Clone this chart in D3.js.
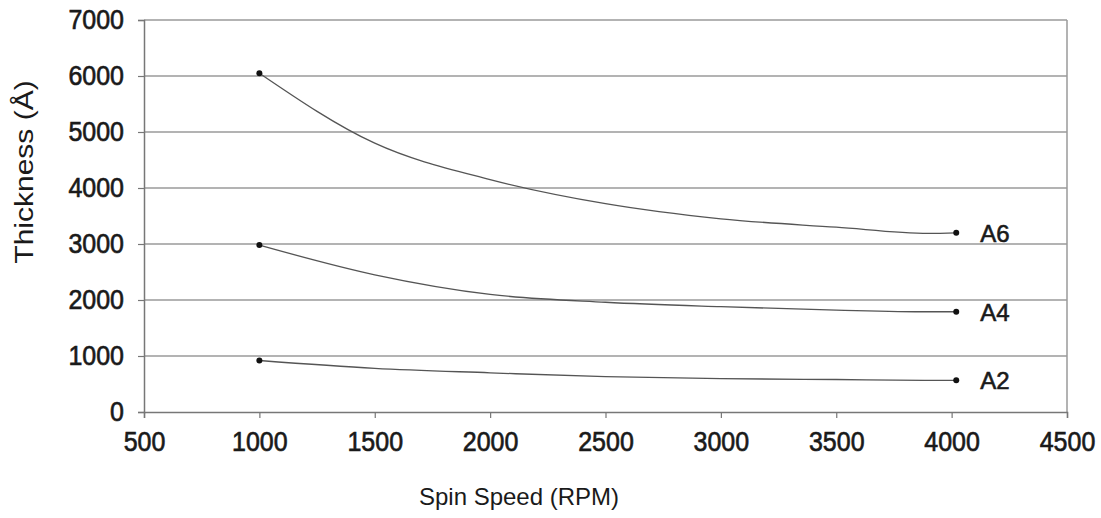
<!DOCTYPE html>
<html>
<head>
<meta charset="utf-8">
<script src="https://cdn.jsdelivr.net/npm/d3@7"></script>
<style>
  body { margin: 0; background: #fff; }
  svg text { font-family: "Liberation Sans", Arial, sans-serif; fill: #1a1a1a; }
</style>
</head>
<body>
<div id="chart"></div>
<script>
// spin speeds
var speeds = [1000, 1500, 2000, 2500, 3000, 3500, 3900, 4020]
var a6 = [6050, 4800, 4150, 3720, 3450, 3300, 3190, 3200]
var a4 = [2980, 2450, 2100, 1960, 1880, 1820, 1790, 1790]
var a2 = [920, 780, 700, 630, 595, 580, 565, 565]
var seriesNames = ['A6', 'A4', 'A2']
var xTicks = [500, 1000, 1500, 2000, 2500, 3000, 3500, 4000, 4500]
var yTicks = [0, 1000, 2000, 3000, 4000, 5000, 6000, 7000]

var width = 1101, height = 518
var margin = { top: 20, right: 34, bottom: 106, left: 144 }

var svg = d3.select('#chart').append('svg')
    .attr('width', width)
    .attr('height', height)

var x = d3.scaleLinear().domain([500, 4500]).range([margin.left, width - margin.right])
var y = d3.scaleLinear().domain([0, 7000]).range([height - margin.bottom, margin.top])

// grid lines
svg.append('g')
    .selectAll('line')
    .data(yTicks.filter(function (d) { return d > 0 }))
    .enter().append('line')
    .attr('x1', x(500))
    .attr('x2', x(4500))
    .attr('y1', function (d) { return y(d) })
    .attr('y2', function (d) { return y(d) })
    .attr('stroke', '#9a9a9a')
    .attr('stroke-width', 1.5)

// right border
svg.append('line')
    .attr('x1', x(4500)).attr('x2', x(4500))
    .attr('y1', y(7000)).attr('y2', y(0))
    .attr('stroke', '#9a9a9a')
    .attr('stroke-width', 1.5)

// x axis
var xAxis = svg.append('g')
    .attr('transform', 'translate(0,' + y(0) + ')')
    .call(d3.axisBottom(x).tickValues(xTicks).tickFormat(d3.format('d')).tickSize(6).tickPadding(11))
xAxis.select('.domain').attr('stroke', '#777').attr('stroke-width', 1.5)
xAxis.selectAll('.tick line').attr('stroke', '#777').attr('stroke-width', 1.2)
xAxis.selectAll('text')
    .style('font-size', '25px')
    .attr('fill', '#1a1a1a')
    .attr('stroke', '#1a1a1a')
    .attr('stroke-width', 0.6)
    .attr('transform', 'scale(1,1.12)')

// y axis
var yAxis = svg.append('g')
    .attr('transform', 'translate(' + x(500) + ',0)')
    .call(d3.axisLeft(y).tickValues(yTicks).tickFormat(d3.format('d')).tickSize(6).tickPadding(14))
yAxis.select('.domain').attr('stroke', '#777').attr('stroke-width', 1.5)
yAxis.selectAll('.tick line').attr('stroke', '#777').attr('stroke-width', 1.2)
yAxis.selectAll('text')
    .style('font-size', '25px')
    .attr('fill', '#1a1a1a')
    .attr('stroke', '#1a1a1a')
    .attr('stroke-width', 0.6)
    .attr('transform', 'scale(1,1.12)')

// axis titles
svg.append('text')
    .attr('x', 519)
    .attr('y', 505)
    .attr('text-anchor', 'middle')
    .style('font-size', '24px')
    .text('Spin Speed (RPM)')

svg.append('text')
    .attr('transform', 'translate(33,' + 172 + ') rotate(-90) scale(1.2,1)')
    .attr('text-anchor', 'middle')
    .style('font-size', '25px')
    .text('Thickness (Å)')

// curves
var series = [a6, a4, a2]
var line = d3.line()
    .x(function (d, i) { return x(speeds[i]) })
    .y(function (d) { return y(d) })
    .curve(d3.curveMonotoneX)

var g = svg.append('g')
series.forEach(function (vals, k) {
    g.append('path')
        .datum(vals)
        .attr('d', line)
        .attr('fill', 'none')
        .attr('stroke', '#555')
        .attr('stroke-width', 1.3)

    var ends = [0, vals.length - 1]
    ends.forEach(function (i) {
        g.append('circle')
            .attr('cx', x(speeds[i]))
            .attr('cy', y(vals[i]))
            .attr('r', 3)
            .attr('fill', '#111')
    })

    g.append('text')
        .attr('x', x(speeds[vals.length - 1]) + 24)
        .attr('y', y(vals[vals.length - 1]) + 9)
        .style('font-size', '24px')
        .attr('stroke', '#1a1a1a')
        .attr('stroke-width', 0.6)
        .text(seriesNames[k])
})
</script>
</body>
</html>
